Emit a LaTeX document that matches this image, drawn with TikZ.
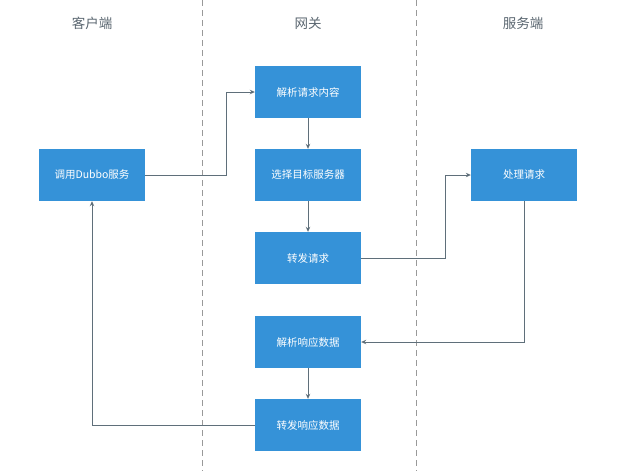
\documentclass[tikz,border=0pt]{standalone}
\usepackage{fontspec}
\setmainfont{Noto Sans CJK SC}
\usetikzlibrary{arrows.meta}
\definecolor{boxblue}{HTML}{3592D8}
\definecolor{linegray}{HTML}{5F6F7A}
\definecolor{titlegray}{HTML}{5A6670}
\tikzset{
  stepbox/.style={draw=none,fill=boxblue,text=white,minimum width=106pt,minimum height=52pt,inner sep=0pt,font=\fontsize{10.5}{12}\selectfont},
  title/.style={text=titlegray,font=\fontsize{13.5}{15}\selectfont},
  conn/.style={draw=linegray,line width=0.7pt,-{Stealth[length=5pt,width=4.5pt]}},
  lane/.style={draw=gray!80,line width=0.7pt,dash pattern=on 6pt off 4pt}
}
\begin{document}
\begin{tikzpicture}[x=1pt,y=-1pt]
\useasboundingbox (0,0) rectangle (620,471);
\draw[lane] (202,0) -- (202,471);
\draw[lane] (416,0) -- (416,471);
\node[title] (t1) at (92,23) {客户端};
\node[title] (t2) at (308,23) {网关};
\node[title] (t3) at (523,23) {服务端};
\node[stepbox] (a) at (308,92) {解析请求内容};
\node[stepbox] (c) at (92,175) {调用Dubbo服务};
\node[stepbox] (b) at (308,175) {选择目标服务器};
\node[stepbox] (d) at (308,258) {转发请求};
\node[stepbox] (s) at (524,175) {处理请求};
\node[stepbox] (e) at (308,342) {解析响应数据};
\node[stepbox] (f) at (308,425) {转发响应数据};
\coordinate (k1) at (226,175);
\coordinate (k2) at (226,92);
\coordinate (k3) at (445,258);
\coordinate (k4) at (445,175);
\coordinate (k5) at (524,342);
\coordinate (k6) at (92,425);
\draw[conn] (c.east) -- (k1) -- (k2) -- (a.west);
\draw[conn] (a) -- (b);
\draw[conn] (b) -- (d);
\draw[conn] (d.east) -- (k3) -- (k4) -- (s.west);
\draw[conn] (s.south) -- (k5) -- (e.east);
\draw[conn] (e) -- (f);
\draw[conn] (f.west) -- (k6) -- (c.south);
\end{tikzpicture}
\end{document}
